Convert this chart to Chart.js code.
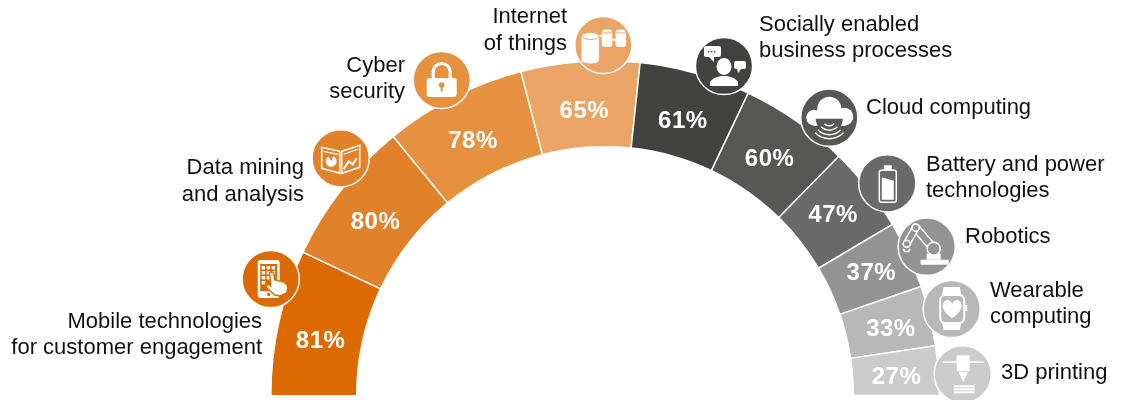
<!DOCTYPE html>
<html>
<head>
<meta charset="utf-8">
<style>
  html, body { margin: 0; padding: 0; background: #fff; }
  #wrap { position: relative; width: 1125px; height: 400px; }
</style>
</head>
<body>
<div id="wrap"><canvas id="techChart" width="1125" height="400"></canvas></div>
<script src="https://cdn.jsdelivr.net/npm/chart.js@4/dist/chart.umd.js"></script>
<script>
const categories = [
  'Mobile technologies for customer engagement', 'Data mining and analysis', 'Cyber security',
  'Internet of things', 'Socially enabled business processes', 'Cloud computing',
  'Battery and power technologies', 'Robotics', 'Wearable computing', '3D printing'
];
const shares = [81, 80, 78, 65, 61, 60, 47, 37, 33, 27];
const sliceColors = ['#dd6a00', '#e1812a', '#e59140', '#eaa566', '#424241', '#575756', '#6a6a6a', '#939393', '#b8b8b8', '#cbcbcb'];

// label text per slice, one entry per line: [x, baseline, text]
const labelLines = [
  { align: 'right', lines: [[262, 328, 'Mobile technologies'], [262, 354, 'for customer engagement']] },
  { align: 'right', lines: [[304, 174, 'Data mining'], [304, 201, 'and analysis']] },
  { align: 'right', lines: [[405, 72, 'Cyber'], [405, 98, 'security']] },
  { align: 'right', lines: [[567, 23, 'Internet'], [567, 50, 'of things']] },
  { align: 'left', lines: [[759, 31, 'Socially enabled'], [759, 57, 'business processes']] },
  { align: 'left', lines: [[866, 114, 'Cloud computing']] },
  { align: 'left', lines: [[926, 171, 'Battery and power'], [926, 197, 'technologies']] },
  { align: 'left', lines: [[965, 243, 'Robotics']] },
  { align: 'left', lines: [[990, 297, 'Wearable'], [990, 323, 'computing']] },
  { align: 'left', lines: [[1001, 379, '3D printing']] }
];

const badgeSpots = [
  [270.7, 279], [340.7, 158.3], [441.7, 80], [603.3, 45], [724, 66],
  [829.3, 117.7], [887.3, 183.3], [926.7, 246.7], [951.7, 309], [962.7, 374.3]
];

// the percentages sit a little off the middle of each slice
const valueNudges = [[0, 8], [0, 6], [0, 5], [1, 6], [-1, 6], [-2, 2], [-1, -1], [2, 0], [3, 2], [1, 3]];

function rr(ctx, x, y, w, h, r) {
  ctx.beginPath();
  ctx.roundRect(x, y, w, h, r);
}

function poly(ctx, pts) {
  ctx.beginPath();
  pts.forEach((p, i) => i ? ctx.lineTo(p[0], p[1]) : ctx.moveTo(p[0], p[1]));
  ctx.closePath();
}

// icon painters, each draws around 0,0 in white on the badge colour c
const icons = [
  function phone(ctx, c) {
    ctx.fillStyle = '#fff';
    rr(ctx, -13, -19, 22, 38, 3); ctx.fill();
    ctx.fillStyle = c;
    ctx.fillRect(-10.5, -15, 17, 27);
    ctx.fillStyle = '#fff';
    for (let row = 0; row < 4; row++) {
      for (let col = 0; col < 3; col++) {
        if (row === 3 && col > 0) continue;
        ctx.fillRect(-9 + col * 5, -13 + row * 5, 3.4, 3.4);
      }
    }
    // finger and hand
    ctx.fillStyle = '#fff';
    ctx.strokeStyle = c;
    ctx.lineWidth = 1.4;
    ctx.beginPath();
    ctx.moveTo(-1, -6);
    ctx.quadraticCurveTo(1, -8, 3, -6);
    ctx.lineTo(4, 1);
    ctx.lineTo(13, 3);
    ctx.quadraticCurveTo(17, 5, 17, 9);
    ctx.lineTo(16, 14);
    ctx.lineTo(9, 17);
    ctx.lineTo(4, 16);
    ctx.lineTo(-5, 8);
    ctx.lineTo(-3, 5);
    ctx.lineTo(0, 7);
    ctx.closePath();
    ctx.fill();
    ctx.stroke();
    ctx.fillStyle = c;
    ctx.beginPath(); ctx.arc(-2, 15.5, 1.7, 0, Math.PI * 2); ctx.fill();
  },
  function report(ctx, c) {
    ctx.strokeStyle = '#fff';
    ctx.lineWidth = 1.6;
    poly(ctx, [[-19, -11], [-1, -7], [-1, 15], [-19, 10]]); ctx.stroke();
    poly(ctx, [[1, -7], [19, -13], [19, 9], [1, 15]]); ctx.stroke();
    ctx.lineWidth = 1.2;
    ctx.beginPath();
    ctx.moveTo(-17, -7); ctx.lineTo(-3, -4);
    ctx.moveTo(3, -4); ctx.lineTo(17, -9);
    ctx.stroke();
    ctx.fillStyle = '#fff';
    ctx.beginPath();
    ctx.moveTo(-9.5, 3);
    ctx.arc(-9.5, 3, 5.5, -1.2, 4.2);
    ctx.closePath();
    ctx.fill();
    ctx.strokeStyle = '#fff';
    ctx.lineWidth = 2;
    ctx.beginPath();
    ctx.moveTo(3, 11); ctx.lineTo(8, 3); ctx.lineTo(12, 6); ctx.lineTo(16, 0);
    ctx.stroke();
  },
  function lock(ctx, c) {
    ctx.strokeStyle = '#fff';
    ctx.lineWidth = 3.2;
    ctx.beginPath();
    ctx.moveTo(-8.5, -2);
    ctx.lineTo(-8.5, -8);
    ctx.arc(0, -8, 8.5, Math.PI, 0);
    ctx.lineTo(8.5, -2);
    ctx.stroke();
    ctx.fillStyle = '#fff';
    rr(ctx, -15, -2, 30, 19, 3); ctx.fill();
    ctx.fillStyle = c;
    ctx.beginPath(); ctx.arc(0, 5, 2.8, 0, Math.PI * 2); ctx.fill();
    ctx.fillRect(-1, 5.5, 2, 6);
  },
  function cylinders(ctx, c) {
    const can = (x, y, w, h) => {
      ctx.fillStyle = '#fff';
      ctx.strokeStyle = c;
      ctx.lineWidth = 1;
      ctx.beginPath();
      ctx.ellipse(x, y + h, w / 2, w / 5, 0, 0, Math.PI * 2);
      ctx.fill();
      ctx.fillRect(x - w / 2, y, w, h);
      ctx.beginPath();
      ctx.ellipse(x, y, w / 2, w / 5, 0, 0, Math.PI * 2);
      ctx.fill();
      ctx.stroke();
    };
    ctx.fillStyle = '#fff';
    ctx.fillRect(-6, -10, 10, 1.6);
    ctx.fillRect(8, -6, 6, 1.6);
    can(-13, -9, 17.5, 24);
    can(3.7, -14, 10.5, 14);
    can(17.5, -14, 10.5, 14);
  },
  function people(ctx, c) {
    ctx.fillStyle = '#fff';
    ctx.beginPath();
    ctx.ellipse(0, 0.5, 7.5, 8.5, 0, 0, Math.PI * 2);
    ctx.fill();
    ctx.beginPath();
    ctx.moveTo(-14, 20);
    ctx.lineTo(-14, 16);
    ctx.quadraticCurveTo(-12, 12, -3, 10);
    ctx.lineTo(3, 10);
    ctx.quadraticCurveTo(12, 12, 14, 16);
    ctx.lineTo(14, 20);
    ctx.closePath();
    ctx.fill();
    // speech bubbles
    rr(ctx, -20, -20, 17, 11, 2); ctx.fill();
    poly(ctx, [[-16, -10], [-10, -10], [-10, -4]]); ctx.fill();
    rr(ctx, 10, -5, 12, 8, 2); ctx.fill();
    poly(ctx, [[13, 2], [18, 2], [14, 7]]); ctx.fill();
    ctx.fillStyle = c;
    [-16, -13, -10].forEach(x => ctx.fillRect(x, -15, 1.4, 1.4));
  },
  function cloud(ctx, c) {
    ctx.fillStyle = '#fff';
    ctx.beginPath();
    ctx.arc(0, -9, 12, 0, Math.PI * 2);
    ctx.fill();
    ctx.beginPath();
    ctx.arc(-15, 0, 8, 0, Math.PI * 2);
    ctx.fill();
    ctx.beginPath();
    ctx.arc(15, -1, 9, 0, Math.PI * 2);
    ctx.fill();
    ctx.fillRect(-15, -6, 30, 14);
    // notch under the cloud with the signal arcs below it
    ctx.fillStyle = c;
    ctx.beginPath();
    ctx.arc(0, 1, 13.5, 0, Math.PI);
    ctx.closePath();
    ctx.fill();
    ctx.strokeStyle = '#fff';
    ctx.lineWidth = 1.4;
    [7, 11.5, 16, 20].forEach(r => {
      ctx.beginPath();
      ctx.arc(0, 1, r, 0.25 * Math.PI, 0.75 * Math.PI);
      ctx.stroke();
    });
  },
  function battery(ctx, c) {
    ctx.strokeStyle = '#fff';
    ctx.lineWidth = 1.5;
    rr(ctx, -8, -13, 17, 32, 2); ctx.stroke();
    ctx.fillStyle = '#fff';
    ctx.fillRect(-3.5, -18, 8, 5);
    poly(ctx, [[-5.5, -6], [6.5, -2.5], [6.5, 16.5], [-5.5, 16.5]]);
    ctx.fill();
  },
  function robot(ctx, c) {
    ctx.fillStyle = '#fff';
    ctx.fillRect(-6, 13, 28, 5);
    ctx.fillRect(0, 7, 14, 6);
    ctx.lineCap = 'round';
    const arm = (x1, y1, x2, y2, w) => {
      ctx.lineWidth = w + 3;
      ctx.strokeStyle = '#fff';
      ctx.beginPath(); ctx.moveTo(x1, y1); ctx.lineTo(x2, y2); ctx.stroke();
      ctx.lineWidth = w;
      ctx.strokeStyle = c;
      ctx.beginPath(); ctx.moveTo(x1, y1); ctx.lineTo(x2, y2); ctx.stroke();
    };
    arm(-11, -19, 7, 2, 6);
    arm(-11, -19, -20, -3, 5);
    ctx.lineCap = 'butt';
    ctx.fillStyle = c;
    ctx.strokeStyle = '#fff';
    ctx.lineWidth = 1.5;
    [[7, 2, 6.5], [-11, -19, 3.5], [-20, -3, 3.5]].forEach(j => {
      ctx.beginPath(); ctx.arc(j[0], j[1], j[2], 0, Math.PI * 2); ctx.fill(); ctx.stroke();
    });
    ctx.beginPath(); ctx.arc(-20, 2, 3, 0, Math.PI); ctx.stroke();
  },
  function watch(ctx, c) {
    ctx.fillStyle = '#fff';
    poly(ctx, [[-8, -22], [8, -22], [10, -13], [-10, -13]]); ctx.fill();
    poly(ctx, [[-10, 12], [10, 12], [8, 21], [-8, 21]]); ctx.fill();
    rr(ctx, -12.5, -15, 26, 30, 6); ctx.fill();
    ctx.fillRect(13.5, -4, 2, 6);
    ctx.fillStyle = c;
    rr(ctx, -10.5, -13, 22, 26, 4); ctx.fill();
    ctx.fillStyle = '#fff';
    ctx.beginPath();
    ctx.moveTo(0.5, 9);
    ctx.bezierCurveTo(-14, 0, -9, -10, -3, -9);
    ctx.quadraticCurveTo(-0.5, -8, 0.5, -5.5);
    ctx.quadraticCurveTo(1.5, -8, 4, -9);
    ctx.bezierCurveTo(10, -10, 15, 0, 0.5, 9);
    ctx.fill();
  },
  function printer(ctx, c) {
    ctx.fillStyle = '#fff';
    ctx.fillRect(-20, -13, 41, 1.6);
    ctx.fillRect(-6, -19, 13, 16);
    poly(ctx, [[-4, -2], [5, -2], [2, 5], [-1, 5]]); ctx.fill();
    ctx.fillRect(-0.5, 5, 2, 2);
    ctx.fillRect(-9, 11, 21, 2);
    ctx.fillRect(-9, 14, 21, 2);
    ctx.fillRect(-9, 17, 21, 2);
  }
];

// the start of the sweep dips under the baseline, so clip the slices there
const baselineClip = {
  id: 'baselineClip',
  beforeDatasetsDraw(chart) {
    chart.ctx.save();
    chart.ctx.beginPath();
    chart.ctx.rect(0, 0, chart.width, 395);
    chart.ctx.clip();
  },
  afterDatasetsDraw(chart) {
    chart.ctx.restore();
  }
};

// draws the value text, the badges and the side labels on top of the slices
const overlayPlugin = {
  id: 'overlay',
  afterDatasetsDraw(chart) {
    const ctx = chart.ctx;
    const arcs = chart.getDatasetMeta(0).data;

    ctx.save();
    ctx.font = 'bold 24px "Liberation Sans", Arial, sans-serif';
    ctx.letterSpacing = '0.5px';
    ctx.fillStyle = '#fff';
    ctx.textAlign = 'center';
    ctx.textBaseline = 'middle';
    arcs.forEach((arc, i) => {
      const p = arc.getCenterPoint();
      ctx.fillText(shares[i] + '%', p.x + valueNudges[i][0], p.y + valueNudges[i][1] + 1);
    });
    ctx.restore();

    badgeSpots.forEach((spot, i) => {
      ctx.save();
      ctx.translate(spot[0], spot[1]);
      ctx.beginPath();
      ctx.arc(0, 0, 28.6, 0, Math.PI * 2);
      ctx.fillStyle = sliceColors[i];
      ctx.fill();
      ctx.strokeStyle = '#fff';
      ctx.lineWidth = 1.5;
      ctx.stroke();
      icons[i](ctx, sliceColors[i]);
      ctx.restore();
    });

    ctx.save();
    ctx.font = '22px "Liberation Sans", Arial, sans-serif';
    ctx.fillStyle = '#111';
    ctx.textBaseline = 'alphabetic';
    labelLines.forEach(label => {
      ctx.textAlign = label.align;
      label.lines.forEach(l => ctx.fillText(l[2], l[0], l[1]));
    });
    ctx.restore();
  }
};

new Chart(document.getElementById('techChart').getContext('2d'), {
  type: 'doughnut',
  data: {
    labels: categories,
    datasets: [{
      data: shares,
      backgroundColor: sliceColors,
      borderColor: '#fff',
      borderWidth: 1.5
    }]
  },
  options: {
    responsive: false,
    animation: false,
    rotation: -90.4,
    circumference: 180.5,
    cutout: '74.3%',
    layout: { padding: { left: 270, right: 185, top: 60, bottom: 2 } },
    plugins: { legend: { display: false }, tooltip: { enabled: false } }
  },
  plugins: [baselineClip, overlayPlugin]
});
</script>
</body>
</html>
